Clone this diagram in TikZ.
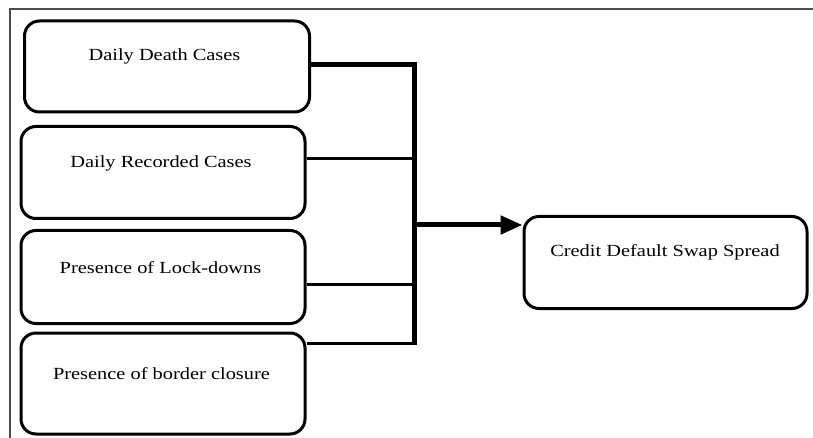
\documentclass[tikz,border=0pt]{standalone}
\usepackage{fontspec}
\setmainfont{Liberation Serif}[FakeStretch=1.2]
\usetikzlibrary{arrows.meta}
\begin{document}
\begin{tikzpicture}[x=1pt,y=-1pt,
  box/.style={draw=black,line width=3pt,rounded corners=15pt,fill=white},
  lbl/.style={anchor=base,inner sep=0pt,font=\fontsize{17}{20}\selectfont},
  thickconn/.style={line width=5pt},
  thinconn/.style={line width=3pt},
  frame/.style={draw=black!70,line width=1.5pt}]
\useasboundingbox (0,0) rectangle (813,438);
\draw[frame] (10,438) -- (10,9) -- (813,9);
% boxes
\node[box,minimum width=285pt,minimum height=91pt] (b1) at (167,66.5) {};
\node[box,minimum width=284pt,minimum height=92pt] (b2) at (163,172.5) {};
\node[box,minimum width=284pt,minimum height=93pt] (b3) at (163,277) {};
\node[box,minimum width=284pt,minimum height=101pt] (b4) at (163,383.5) {};
\node[box,minimum width=283pt,minimum height=92pt] (r) at (665.5,262.5) {};
% labels
\node[lbl] (t1) at (164.5,61) {Daily Death Cases};
\node[lbl] (t2) at (161,168) {Daily Recorded Cases};
\node[lbl] (t3) at (160.5,273) {Presence of Lock-downs};
\node[lbl] (t4) at (161.5,379) {Presence of border closure};
\node[lbl] (t5) at (665,257) {Credit Default Swap Spread};
% junctions
\coordinate (top) at (414,65);
\coordinate (j2) at (414,159);
\coordinate (mid) at (414,225);
\coordinate (j3) at (414,284);
\coordinate (bot) at (414,343);
% connectors
\draw[thinconn] ([yshift=13.5pt]b2.east) -- (j2);
\draw[thinconn] ([yshift=-7pt]b3.east) -- (j3);
\draw[thinconn] ([yshift=40.5pt]b4.east) -- (bot);
\draw[thickconn] ([yshift=1.5pt]b1.east) -- (top) -- ([yshift=-1.5pt]bot);
\draw[thickconn,-{Triangle[length=22pt,width=18pt]}] (mid) -- ([yshift=37.5pt]r.west);
\end{tikzpicture}
\end{document}
